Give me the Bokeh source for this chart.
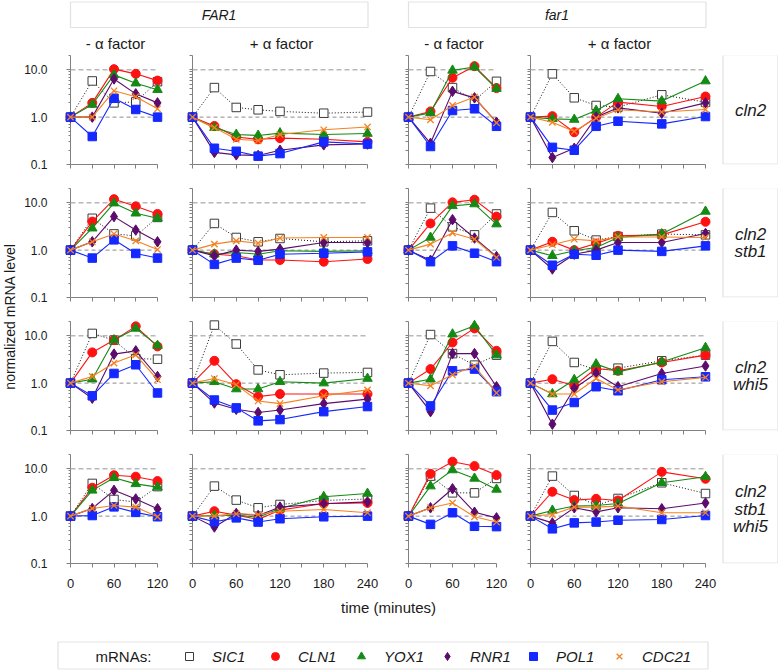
import math
from bokeh.plotting import figure
from bokeh.layouts import row, column
from bokeh.models import (Range1d, FixedTicker, CustomJSTickFormatter, Span, Label,
                          BoxAnnotation, Legend, LegendItem)
from bokeh.embed import file_html
from bokeh.resources import INLINE

# ---------------- data ----------------
TIMES_MINUS = [0, 30, 60, 90, 120]
TIMES_PLUS = [0, 30, 60, 90, 120, 180, 240]
GENES = ["SIC1", "CLN1", "YOX1", "RNR1", "POL1", "CDC21"]
STRAINS = [["cln2"], ["cln2", "stb1"], ["cln2", "whi5"], ["cln2", "stb1", "whi5"]]
GENOTYPES = ["FAR1", "far1"]
CONDITIONS = ["- α factor", "+ α factor"]
X_TICKS_MINUS = [0, 60, 120]
X_TICKS_PLUS = [0, 60, 120, 180, 240]
Y_TICKS = [0.1, 1.0, 10.0]

# row 1: cln2
FAR1_minus_cln2 = dict(
    SIC1=[1, 5.8, 2.0, 2.1, 5.6], CLN1=[1, 2.0, 10.3, 8.2, 5.9], YOX1=[1, 1.85, 7.8, 5.2, 3.8],
    RNR1=[1, 1.0, 6.4, 3.1, 2.0], POL1=[1, 0.39, 2.5, 1.45, 1.0], CDC21=[1, 1.0, 3.6, 2.7, 1.5])
FAR1_plus_cln2 = dict(
    SIC1=[1, 4.2, 1.6, 1.43, 1.32, 1.21, 1.28], CLN1=[1, 0.65, 0.38, 0.34, 0.36, 0.34, 0.30],
    YOX1=[1, 0.6, 0.43, 0.41, 0.46, 0.43, 0.45], RNR1=[1, 0.18, 0.16, 0.155, 0.2, 0.26, 0.27],
    POL1=[1, 0.22, 0.19, 0.15, 0.17, 0.30, 0.27], CDC21=[1, 0.6, 0.34, 0.32, 0.43, 0.54, 0.62])
far1_minus_cln2 = dict(
    SIC1=[1, 9.2, 4.2, 2.25, 5.7], CLN1=[1, 1.32, 6.8, 11.9, 4.1], YOX1=[1, 1.23, 9.7, 11.4, 4.0],
    RNR1=[1, 0.28, 3.5, 2.55, 0.78], POL1=[1, 0.24, 1.38, 1.5, 0.64], CDC21=[1, 0.88, 1.76, 2.65, 0.76])
far1_plus_cln2 = dict(
    SIC1=[1, 8.2, 2.56, 1.76, 1.63, 2.96, 2.07], CLN1=[1, 1.05, 0.48, 1.0, 2.07, 1.68, 2.73],
    YOX1=[1, 0.92, 0.89, 1.38, 2.44, 2.18, 5.76], RNR1=[1, 0.14, 0.22, 1.0, 1.57, 1.21, 2.0],
    POL1=[1, 0.23, 0.2, 0.64, 0.82, 0.72, 1.03], CDC21=[1, 0.78, 0.5, 0.95, 1.43, 1.28, 1.45])

# row 2: cln2 stb1
FAR1_minus_cln2_stb1 = dict(
    SIC1=[1, 4.7, 2.2, 2.0, 4.9], CLN1=[1, 4.0, 11.9, 8.4, 5.8], YOX1=[1, 2.9, 9.8, 6.0, 4.7],
    RNR1=[1, 1.5, 5.1, 2.65, 1.5], POL1=[1, 0.68, 1.65, 0.85, 0.68], CDC21=[1, 1.5, 2.2, 1.57, 1.03])
FAR1_plus_cln2_stb1 = dict(
    SIC1=[1, 3.66, 1.85, 1.5, 1.76, 1.5, 1.57], CLN1=[1, 0.82, 0.76, 0.62, 0.62, 0.57, 0.65],
    YOX1=[1, 0.82, 0.89, 0.82, 0.97, 0.94, 0.97], RNR1=[1, 0.76, 1.0, 0.94, 1.05, 1.45, 1.45],
    POL1=[1, 0.5, 0.68, 0.61, 0.82, 0.86, 0.92], CDC21=[1, 1.34, 1.57, 1.4, 1.8, 1.85, 1.85])
far1_minus_cln2_stb1 = dict(
    SIC1=[1, 7.7, 3.1, 2.1, 5.8], CLN1=[1, 3.66, 10.2, 11.6, 5.1], YOX1=[1, 1.85, 8.6, 9.4, 3.54],
    RNR1=[1, 0.61, 4.4, 1.8, 0.73], POL1=[1, 0.57, 1.23, 0.86, 0.57], CDC21=[1, 1.34, 2.3, 1.7, 0.7])
far1_plus_cln2_stb1 = dict(
    SIC1=[1, 6.25, 2.56, 1.63, 1.94, 2.18, 2.1], CLN1=[1, 1.5, 1.0, 1.38, 2.0, 2.1, 3.97],
    YOX1=[1, 0.76, 0.97, 1.14, 1.85, 2.18, 6.56], RNR1=[1, 0.4, 0.82, 1.0, 1.45, 1.45, 2.25],
    POL1=[1, 0.48, 0.82, 0.78, 1.0, 0.94, 1.23], CDC21=[1, 1.3, 1.7, 1.57, 1.9, 1.9, 1.85])

# row 3: cln2 whi5
FAR1_minus_cln2_whi5 = dict(
    SIC1=[1, 11.2, 8.1, 3.3, 3.2], CLN1=[1, 4.45, 8.1, 15.8, 5.95], YOX1=[1, 1.21, 8.1, 14.3, 6.2],
    RNR1=[1, 0.48, 4.1, 4.8, 1.38], POL1=[1, 0.54, 1.6, 2.44, 0.62], CDC21=[1, 1.38, 2.65, 3.97, 1.18])
FAR1_plus_cln2_whi5 = dict(
    SIC1=[1, 16.8, 6.7, 1.9, 1.5, 1.63, 1.68], CLN1=[1, 2.96, 0.95, 0.52, 0.59, 0.59, 0.59],
    YOX1=[1, 1.07, 0.75, 0.75, 1.07, 1.0, 1.25], RNR1=[1, 0.38, 0.28, 0.24, 0.27, 0.37, 0.46],
    POL1=[1, 0.44, 0.3, 0.16, 0.17, 0.25, 0.32], CDC21=[1, 1.25, 0.92, 0.42, 0.37, 0.54, 0.72])
far1_minus_cln2_whi5 = dict(
    SIC1=[1, 10.6, 4.2, 2.4, 3.9], CLN1=[1, 1.98, 7.2, 14.3, 4.8], YOX1=[1, 1.21, 10.8, 16.3, 3.9],
    RNR1=[1, 0.25, 4.2, 4.2, 0.84], POL1=[1, 0.33, 1.82, 1.98, 0.66], CDC21=[1, 0.88, 1.5, 2.3, 0.62])
far1_plus_cln2_whi5 = dict(
    SIC1=[1, 7.6, 2.73, 1.9, 2.07, 2.96, 3.9], CLN1=[1, 1.21, 0.88, 2.04, 1.82, 2.73, 3.9],
    YOX1=[1, 0.59, 1.18, 2.52, 1.73, 2.8, 5.6], RNR1=[1, 0.136, 0.77, 1.62, 0.84, 1.6, 2.3],
    POL1=[1, 0.27, 0.39, 0.84, 0.69, 1.18, 1.36], CDC21=[1, 0.59, 0.59, 1.25, 0.72, 1.07, 1.32])

# row 4: cln2 stb1 whi5
FAR1_minus_cln2_stb1_whi5 = dict(
    SIC1=[1, 4.9, 2.25, 1.98, 4.2], CLN1=[1, 3.97, 7.3, 6.8, 5.5], YOX1=[1, 3.5, 6.45, 4.8, 4.1],
    RNR1=[1, 1.45, 3.5, 2.3, 1.43], POL1=[1, 1.03, 1.57, 1.2, 0.97], CDC21=[1, 1.45, 1.68, 1.55, 0.97])
FAR1_plus_cln2_stb1_whi5 = dict(
    SIC1=[1, 4.3, 2.18, 1.5, 1.76, 2.14, 2.3], CLN1=[1, 1.27, 1.05, 0.85, 1.34, 1.85, 1.9],
    YOX1=[1, 1.03, 1.05, 0.95, 1.45, 2.56, 3.0], RNR1=[1, 0.59, 1.14, 1.03, 1.55, 1.82, 2.0],
    POL1=[1, 0.76, 0.92, 0.75, 0.88, 0.97, 1.0], CDC21=[1, 1.0, 1.12, 1.08, 1.27, 1.38, 1.18])
far1_minus_cln2_stb1_whi5 = dict(
    SIC1=[1, 7.0, 3.1, 3.1, 6.25], CLN1=[1, 7.8, 14.1, 11.4, 7.35], YOX1=[1, 4.3, 9.4, 6.25, 3.66],
    RNR1=[1, 1.5, 3.78, 1.21, 0.92], POL1=[1, 0.67, 1.18, 0.61, 0.6], CDC21=[1, 1.5, 1.9, 0.97, 0.75])
far1_plus_cln2_stb1_whi5 = dict(
    SIC1=[1, 7.0, 2.73, 1.7, 2.36, 5.06, 3.0], CLN1=[1, 3.27, 2.18, 2.32, 2.14, 8.6, 6.15],
    YOX1=[1, 1.32, 1.63, 1.68, 1.85, 5.06, 6.8], RNR1=[1, 0.72, 1.5, 1.23, 1.5, 1.43, 1.9],
    POL1=[1, 0.54, 0.72, 0.75, 0.82, 0.85, 1.03], CDC21=[1, 1.08, 1.55, 1.55, 1.63, 1.18, 1.18])

PANELS = [
    [FAR1_minus_cln2, FAR1_plus_cln2, far1_minus_cln2, far1_plus_cln2],
    [FAR1_minus_cln2_stb1, FAR1_plus_cln2_stb1, far1_minus_cln2_stb1, far1_plus_cln2_stb1],
    [FAR1_minus_cln2_whi5, FAR1_plus_cln2_whi5, far1_minus_cln2_whi5, far1_plus_cln2_whi5],
    [FAR1_minus_cln2_stb1_whi5, FAR1_plus_cln2_stb1_whi5, far1_minus_cln2_stb1_whi5, far1_plus_cln2_stb1_whi5],
]

# ---------------- styles ----------------
FONT = "'Liberation Sans', Arial, Helvetica, sans-serif"
AX = "#808080"
TXT = "#1a1a1a"
STYLES = {
    "SIC1": dict(marker="square", size=8.5, mline="#3c3c3c", mfill="white", lcolor="#111111", dash="1 2", lw=1.0, mlw=1.0),
    "CLN1": dict(marker="circle", size=9, mline="#ff1111", mfill="#ff1111", lcolor="#ff1111", dash="solid", lw=1.1, mlw=1.0),
    "YOX1": dict(marker="triangle", size=9.5, mline="#148a14", mfill="#148a14", lcolor="#148a14", dash="solid", lw=1.1, mlw=1.0),
    "RNR1": dict(marker="diamond", size=10.5, mline="#5c0c6c", mfill="#5c0c6c", lcolor="#5c0c6c", dash="solid", lw=1.1, mlw=1.0),
    "POL1": dict(marker="square", size=8.5, mline="#1428ff", mfill="#1428ff", lcolor="#1428ff", dash="solid", lw=1.1, mlw=1.0),
    "CDC21": dict(marker="x", size=9, mline="#f5821f", mfill="#f5821f", lcolor="#f5821f", dash="solid", lw=1.1, mlw=1.3),
}

FRAME_H = 109
BT = 3
BB = 21
BB_LAST = 34
COLS = [(49, 87, 18), (17, 175, 17), (24, 88, 16), (18, 175, 12)]  # border_left, frame_w, border_right
LAB_W = 61
YLAB_W = 21
HEAD_H = 52
TOTAL_W = 778
TOTAL_H = 671
ROW_LABEL_STEP = 17.5


def blank(fig):
    fig.outline_line_color = None
    fig.xgrid.visible = False
    fig.ygrid.visible = False
    fig.background_fill_color = "white"
    fig.border_fill_color = "white"


def canvas(w, h, top=0, bottom=0):
    """A figure without axes whose data units are screen pixels of its frame (annotations only)."""
    fh = h - top - bottom
    p = figure(width=w, height=h, x_range=Range1d(0, w), y_range=Range1d(0, fh),
               x_axis_location=None, y_axis_location=None,
               output_backend="svg", toolbar_location=None,
               min_border_left=0, min_border_right=0, min_border_top=top, min_border_bottom=bottom)
    blank(p)
    return p


def make_panel(data, ci, last):
    bl, fw, br = COLS[ci]
    bb = BB_LAST if last else BB
    minus = ci % 2 == 0
    times = TIMES_MINUS if minus else TIMES_PLUS
    xmax = times[-1]
    p = figure(width=bl + fw + br, height=BT + FRAME_H + bb,
               x_range=Range1d(0, xmax), y_range=Range1d(0.1, 20), y_axis_type="log",
               output_backend="svg", toolbar_location=None,
               min_border_left=bl, min_border_right=br, min_border_top=BT, min_border_bottom=bb)
    blank(p)
    p.add_layout(Span(location=10, dimension="width", line_color="#b8b8b8", line_dash="5 3", line_width=1.3))
    p.add_layout(Span(location=1, dimension="width", line_color="#8c8c8c", line_dash="4 3", line_width=1.0))
    for g in GENES:
        st = STYLES[g]
        ln = p.line(times, data[g], line_color=st["lcolor"], line_width=st["lw"], line_dash=st["dash"])
        ln.level = "overlay"
        sc = p.scatter(times, data[g], marker=st["marker"], size=st["size"], line_color=st["mline"],
                       fill_color=st["mfill"], line_width=st["mlw"])
        sc.level = "overlay"

    xa = p.xaxis[0]
    all_x = list(range(0, xmax + 1, 30))
    if last:
        major = X_TICKS_MINUS if minus else X_TICKS_PLUS
        xa.ticker = FixedTicker(ticks=major, minor_ticks=[t for t in all_x if t not in major])
    else:
        xa.ticker = FixedTicker(ticks=[], minor_ticks=all_x)
    xa.axis_line_color = AX
    xa.major_tick_line_color = AX
    xa.minor_tick_line_color = AX
    xa.major_tick_in = 0
    xa.major_tick_out = 4
    xa.minor_tick_in = 0
    xa.minor_tick_out = 4
    xa.major_label_standoff = 11
    xa.major_label_text_font = FONT
    xa.major_label_text_font_size = "13px"
    xa.major_label_text_color = TXT

    ya = p.yaxis[0]
    minors = [k * 10.0 ** e for e in (-1, 0) for k in range(2, 10)] + [20.0]
    if ci == 0:
        ya.ticker = FixedTicker(ticks=Y_TICKS, minor_ticks=minors)
        ya.formatter = CustomJSTickFormatter(code="return tick.toFixed(1);")
    else:
        ya.ticker = FixedTicker(ticks=[], minor_ticks=sorted(minors + Y_TICKS))
    ya.axis_line_color = AX
    ya.major_tick_line_color = AX
    ya.minor_tick_line_color = AX
    ya.major_tick_in = 0
    ya.major_tick_out = 4
    ya.minor_tick_in = 0
    ya.minor_tick_out = 2 if ci == 0 else 3
    ya.major_label_standoff = 19
    ya.major_label_text_font = FONT
    ya.major_label_text_font_size = "12px"
    ya.major_label_text_color = TXT
    return p


def make_row_label(lines, last):
    bb = BB_LAST if last else BB
    h = BT + FRAME_H + bb
    p = canvas(LAB_W, h, top=BT, bottom=bb)      # frame aligned with the panel frames of the row
    p.add_layout(BoxAnnotation(left=5.5, right=60.5, bottom=0.5, top=FRAME_H + 0.5,
                               fill_color="white", fill_alpha=1, line_color="#a0a0a0", line_width=1.2))
    yc = FRAME_H / 2
    n = len(lines)
    for i, t in enumerate(lines):
        y = yc + (n - 1) / 2 * ROW_LABEL_STEP - i * ROW_LABEL_STEP
        p.add_layout(Label(x=33, y=y, text=t, text_align="center", text_baseline="middle",
                           text_font=FONT, text_font_style="italic", text_font_size="17px",
                           text_color=TXT))
    return p


# ---------------- header ----------------
header = canvas(TOTAL_W, HEAD_H)
frames = []
xpos = YLAB_W
for bl, fw, br in COLS:
    frames.append((xpos + bl, xpos + bl + fw))
    xpos += bl + fw + br
for gi, gname in enumerate(GENOTYPES):
    l0 = frames[2 * gi][0]
    r0 = frames[2 * gi + 1][1]
    header.add_layout(BoxAnnotation(left=l0, right=r0 + 0.5, bottom=HEAD_H - 27, top=HEAD_H - 1.5,
                                    fill_color="white", fill_alpha=1, line_color="#a0a0a0",
                                    line_width=1.2))
    header.add_layout(Label(x=(l0 + r0) / 2, y=HEAD_H - 14, text=gname, text_align="center",
                            text_baseline="middle", text_font=FONT, text_font_style="italic",
                            text_font_size="14px", text_color=TXT))
for ci in range(4):
    a, b = frames[ci]
    header.add_layout(Label(x=(a + b) / 2 + 1.5, y=HEAD_H - 43, text=CONDITIONS[ci % 2],
                            text_align="center", text_baseline="middle", text_font=FONT,
                            text_font_size="15px", text_color=TXT))

# ---------------- panels ----------------
rows = []
for ri, strain in enumerate(STRAINS):
    last = ri == len(STRAINS) - 1
    figs = [make_panel(PANELS[ri][ci], ci, last) for ci in range(4)]
    figs.append(make_row_label(strain, last))
    rows.append(row(*figs, spacing=0))

BODY_H = 3 * (BT + FRAME_H + BB) + (BT + FRAME_H + BB_LAST)
ylab = canvas(YLAB_W, BODY_H)
ylab.add_layout(Label(x=9, y=BODY_H - (316 - HEAD_H), text="normalized mRNA level", angle=math.pi / 2,
                      text_align="center", text_baseline="middle", text_font=FONT,
                      text_font_size="14px", text_color=TXT))

# ---------------- bottom: axis title + legend ----------------
BOT_H = TOTAL_H - HEAD_H - BODY_H
bottom = canvas(TOTAL_W, BOT_H)
bottom.add_layout(Label(x=388, y=BOT_H - 10, text="time (minutes)", text_align="center",
                        text_baseline="middle", text_font=FONT, text_font_size="15px",
                        text_color=TXT))
bottom.add_layout(BoxAnnotation(left=57.5, right=707.5, bottom=2.5, top=29.5, fill_color="white",
                                fill_alpha=1, line_color="#a0a0a0", line_width=1.2))
bottom.add_layout(Label(x=95, y=15, text="mRNAs:", text_align="left", text_baseline="middle",
                        text_font=FONT, text_font_size="15px", text_color=TXT))
items = []
for g in GENES:
    st = STYLES[g]
    r = bottom.scatter(x=[float("nan")], y=[float("nan")], marker=st["marker"], size=st["size"],
                       line_color=st["mline"], fill_color=st["mfill"], line_width=st["mlw"])
    items.append(LegendItem(label=g, renderers=[r]))
leg = Legend(items=items, orientation="horizontal", location=(179, 5), padding=0, margin=0,
             spacing=5, glyph_width=20, glyph_height=20, label_standoff=13, label_width=48,
             label_text_font=FONT, label_text_font_style="italic", label_text_font_size="15px",
             label_text_color=TXT, border_line_color=None, background_fill_alpha=0,
             label_text_baseline="middle")
bottom.add_layout(leg)

layout = column(header, row(ylab, column(*rows, spacing=0), spacing=0), bottom, spacing=0)

with open("out.html", "w") as f:
    f.write(file_html(layout, INLINE))
